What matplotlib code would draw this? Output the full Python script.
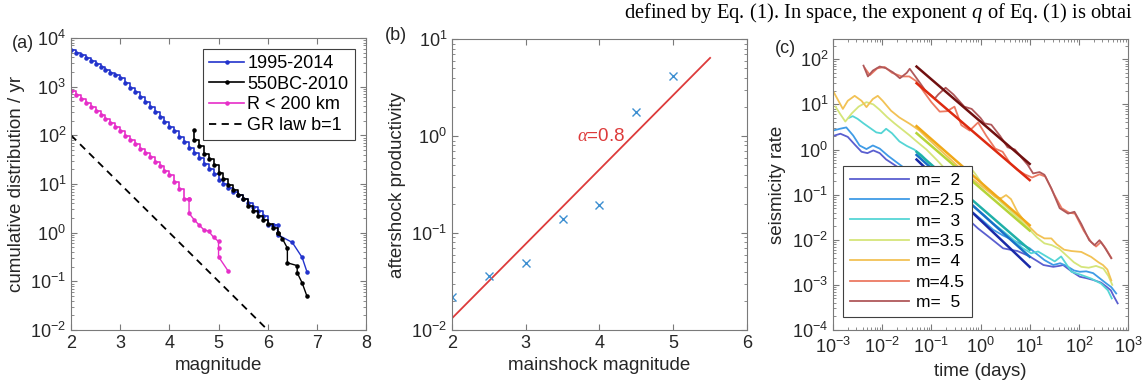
import numpy as np
import matplotlib.pyplot as plt

plt.rcParams['font.family'] = ['Liberation Sans', 'DejaVu Sans']
plt.rcParams['mathtext.fontset'] = 'custom'
plt.rcParams['mathtext.rm'] = 'Liberation Sans'
plt.rcParams['mathtext.it'] = 'Liberation Serif:italic'

# ---------- panel (a): cumulative distributions ----------
blue_m = [2.0, 2.1, 2.2, 2.3, 2.4, 2.5, 2.6, 2.7, 2.8, 2.9,
          3.0, 3.1, 3.2, 3.3, 3.4, 3.5, 3.6, 3.7, 3.8, 3.9,
          4.0, 4.1, 4.2, 4.3, 4.4, 4.5, 4.6, 4.7, 4.8, 4.9,
          5.0, 5.1, 5.2, 5.3, 5.4, 5.5, 5.6, 5.7, 5.8, 5.9, 6.0, 6.1]
blue_n = [5750, 5000, 4370, 3800, 3310, 2880, 2510, 2190, 1900, 1700,
          1510, 1200, 955, 760, 600, 480, 380, 300, 240, 190,
          151, 120, 93, 72, 56, 44, 34, 26, 20, 16,
          12.3, 10, 8.3, 6.9, 5.8, 4.8, 4.0, 3.3, 2.8, 2.2, 1.45, 1.45]
blue_tail_m = [6.1, 6.2, 6.2, 6.5, 6.7, 6.8]
blue_tail_n = [1.45, 1.45, 0.91, 0.63, 0.31, 0.155]

black_m = [4.5, 4.5, 4.6, 4.7, 4.8, 4.9, 5.0, 5.1, 5.2, 5.3, 5.4,
           5.5, 5.6, 5.7, 5.8, 5.9, 6.0, 6.1, 6.2]
black_n = [126, 80, 60, 42, 32, 24, 17, 12.6, 9.5, 7.6, 6.0,
           4.8, 3.6, 2.8, 2.2, 1.8, 1.5, 1.25, 1.0]
black_tail_m = [6.2, 6.3, 6.4, 6.4, 6.6, 6.6, 6.7, 6.8]
black_tail_n = [1.0, 0.75, 0.48, 0.24, 0.21, 0.15, 0.093, 0.049]

mag_m = [2.0, 2.1, 2.2, 2.3, 2.4, 2.5, 2.6, 2.7, 2.8, 2.9,
         3.0, 3.1, 3.2, 3.3, 3.4, 3.5, 3.6, 3.7, 3.8, 3.9,
         4.0, 4.1, 4.2, 4.3, 4.4]
mag_n = [794, 661, 550, 457, 380, 316, 263, 214, 178, 145,
         120, 98, 79, 65, 52, 43, 35, 28, 23, 18.6,
         15.5, 11.2, 8.0, 4.8, 4.8]
mag_tail_m = [4.4, 4.4, 4.5, 4.6, 4.7, 4.8, 4.9, 5.0, 5.0, 5.0, 5.2]
mag_tail_n = [4.8, 2.5, 1.86, 1.45, 1.15, 1.07, 0.8, 0.66, 0.49, 0.32, 0.16]

gr_m = [2, 6]
gr_n = [100, 0.01]

# ---------- panel (b): productivity ----------
prod_m = [2.0, 2.5, 3.0, 3.5, 4.0, 4.5, 5.0]
prod_k = [0.022, 0.036, 0.049, 0.138, 0.195, 1.77, 4.16]
fit_b_m = [2.0, 5.5]
fit_b_k = [0.0132, 6.4]

# ---------- panel (c): seismicity rate (log10 t, log10 rate) ----------
c_labels = ['m=  2', 'm=2.5', 'm=  3', 'm=3.5', 'm=  4', 'm=4.5', 'm=  5']
c_curve_colors = ['#5a5fd0', '#3f9be6', '#55d5d5', '#d5e57a', '#f2c255', '#ec7a62', '#b0585a']
c_fit_colors = ['#1a2aa8', '#1870c8', '#1fb0a8', '#b5d438', '#f0a818', '#dd2a10', '#701010']

logt_2 = [-3.0, -2.85, -2.7, -2.55, -2.42, -2.3, -2.18, -2.05, -1.92, -1.78, -1.6, -1.4, -1.2, -1.0,
          -0.8, -0.6, -0.42, -0.25, -0.05, 0.15, 0.3, 0.46, 0.6, 0.75, 0.9, 1.0, 1.15, 1.28, 1.48,
          1.6, 1.68, 1.85, 2.02, 2.15, 2.29, 2.45, 2.56, 2.65, 2.70, 2.79]
logr_2 = [0.30, 0.35, 0.28, 0.10, -0.05, -0.08, -0.02, -0.08, -0.22, -0.32, -0.45, -0.60, -0.80, -0.98,
          -1.12, -1.25, -1.41, -1.55, -1.75, -1.92, -2.05, -2.19, -2.22, -2.25, -2.32, -2.37, -2.47, -2.56, -2.60,
          -2.58, -2.56, -2.70, -2.82, -2.85, -2.89, -2.95, -3.04, -3.12, -3.23, -3.41]

logt_25 = [-3.0, -2.86, -2.73, -2.59, -2.46, -2.32, -2.19, -2.05, -1.88, -1.71, -1.5, -1.3, -1.1, -0.9,
           -0.7, -0.5, -0.3, -0.14, 0.05, 0.26, 0.45, 0.6, 0.8, 1.0, 1.15, 1.3, 1.48, 1.62, 1.75,
           1.9, 2.02, 2.15, 2.29, 2.42, 2.56, 2.66, 2.76]
logr_25 = [0.42, 0.46, 0.49, 0.31, 0.09, 0.01, 0.09, 0.02, -0.14, -0.28, -0.45, -0.58, -0.75, -0.90,
           -1.02, -1.18, -1.32, -1.41, -1.58, -1.78, -1.90, -1.98, -2.08, -2.19, -2.32, -2.45, -2.56, -2.52, -2.58,
           -2.68, -2.71, -2.70, -2.74, -2.85, -2.97, -3.05, -3.19]

logt_3 = [-2.68, -2.6, -2.5, -2.38, -2.25, -2.12, -2.02, -1.92, -1.80, -1.65, -1.5, -1.35, -1.2, -1.0,
          -0.85, -0.69, -0.5, -0.3, -0.1, 0.1, 0.26, 0.45, 0.65, 0.85, 1.03, 1.17, 1.34, 1.51, 1.64,
          1.85, 2.05, 2.25, 2.45, 2.59, 2.67]
logr_3 = [0.70, 0.74, 0.68, 0.58, 0.48, 0.38, 0.36, 0.46, 0.36, 0.18, 0.08, 0.0, -0.12, -0.35,
          -0.55, -0.82, -0.90, -1.10, -1.30, -1.48, -1.64, -1.80, -1.98, -2.18, -2.30, -2.26, -2.37, -2.48, -2.37,
          -2.71, -2.78, -2.86, -2.97, -3.12, -3.30]

logt_35 = [-2.95, -2.85, -2.75, -2.62, -2.48, -2.32, -2.18, -2.05, -1.9, -1.75, -1.6, -1.45, -1.3, -1.1,
           -0.9, -0.7, -0.5, -0.35, -0.22, -0.1, 0.05, 0.2, 0.4, 0.6, 0.8, 1.0, 1.15, 1.3, 1.45,
           1.6, 1.75, 1.9, 2.05, 2.2, 2.35, 2.5, 2.6, 2.68]
logr_35 = [0.95, 0.78, 0.62, 0.80, 0.95, 1.05, 1.00, 0.88, 0.72, 0.58, 0.45, 0.32, 0.18, 0.00,
           -0.22, -0.45, -0.60, -0.55, -0.38, -0.55, -0.78, -0.95, -1.15, -1.35, -1.55, -1.78, -1.95, -2.08, -2.12,
           -2.20, -2.35, -2.50, -2.60, -2.62, -2.58, -2.64, -2.80, -3.00]

logt_4 = [-3.0, -2.9, -2.80, -2.70, -2.56, -2.42, -2.32, -2.19, -2.09, -1.99, -1.82, -1.65, -1.44, -1.24,
          -1.05, -0.85, -0.65, -0.45, -0.25, -0.05, 0.15, 0.3, 0.42, 0.52, 0.62, 0.75, 0.9, 1.0,
          1.15, 1.3, 1.44, 1.55, 1.7, 1.85, 2.05, 2.25, 2.4, 2.49, 2.58, 2.66]
logr_4 = [1.30, 1.10, 0.90, 1.08, 1.19, 1.08, 0.94, 1.12, 1.19, 1.08, 0.86, 0.71, 0.57, 0.42,
          0.22, 0.02, -0.18, -0.38, -0.58, -0.75, -0.92, -1.05, -1.08, -1.01, -1.10, -1.38, -1.60, -1.72,
          -1.88, -1.97, -1.97, -2.10, -2.22, -2.25, -2.27, -2.38, -2.50, -2.56, -2.66, -2.90]

logt_45 = [-2.35, -2.25, -2.1, -1.95, -1.80, -1.60, -1.45, -1.30, -1.16, -1.00, -0.83, -0.68, -0.53,
           -0.39, -0.22, -0.05, 0.12, 0.30, 0.45, 0.60, 0.75, 0.90, 1.05, 1.20, 1.32, 1.50, 1.65,
           1.80, 1.92, 2.10, 2.25, 2.35, 2.45, 2.55, 2.66]
logr_45 = [1.80, 1.65, 1.80, 1.83, 1.70, 1.62, 1.62, 1.51, 1.29, 1.05, 0.84, 0.85, 0.95,
           0.54, 0.42, 0.60, 0.30, 0.02, -0.05, -0.30, -0.45, -0.55, -0.62, -0.55, -0.60, -1.00, -1.30,
           -1.40, -1.42, -1.80, -2.05, -2.15, -2.05, -2.20, -2.40]

logt_5 = [-2.38, -2.29, -2.19, -2.05, -1.92, -1.78, -1.64, -1.50, -1.44, -1.30, -1.13, -0.93, -0.86,
          -0.71, -0.55, -0.33, -0.18, 0.0, 0.08, 0.22, 0.40, 0.55, 0.70, 0.85, 0.96, 1.07, 1.20,
          1.30, 1.44, 1.61, 1.78, 1.91, 2.05, 2.21, 2.32, 2.42, 2.52, 2.66]
logr_5 = [1.86, 1.62, 1.75, 1.84, 1.80, 1.71, 1.58, 1.70, 1.79, 1.58, 1.32, 1.13, 1.22,
          1.37, 1.22, 0.95, 0.90, 0.70, 0.58, 0.55, 0.30, 0.05, 0.0, -0.20, -0.34, -0.53, -0.50,
          -0.56, -0.86, -1.30, -1.42, -1.38, -1.65, -2.01, -2.12, -2.01, -2.16, -2.41]

c_logt = [logt_2, logt_25, logt_3, logt_35, logt_4, logt_45, logt_5]
c_logr = [logr_2, logr_25, logr_3, logr_35, logr_4, logr_45, logr_5]

# Omori fits, from 0.05 to 10 days
fit_c_t = [0.05, 10]
fit_c_r = [[0.60, 0.0025], [0.76, 0.0042], [0.89, 0.006], [2.3, 0.016],
           [3.3, 0.021], [29.5, 0.21], [69, 0.48]]

# ---------- figure ----------
fig = plt.figure(figsize=(11.46, 3.92), dpi=100)
FS = 13.5

def style(ax):
    ax.tick_params(which='both', direction='in', top=True, right=True,
                   labelcolor='#262626', color='#7a7a7a', labelsize=13)
    ax.tick_params(which='major', length=4)
    ax.tick_params(which='minor', length=2)
    for s in ax.spines.values():
        s.set_color('#7a7a7a')
        s.set_linewidth(0.8)

# (a)
ax1 = fig.add_axes([0.0620, 0.1582, 0.2574, 0.745])
ax1.set_yscale('log')
ms = 4.5
ax1.plot(blue_m, blue_n, color='#2233cc', marker='.', ms=ms, lw=1.2, drawstyle='steps-post',
         label='1995-2014')
ax1.plot(blue_tail_m, blue_tail_n, color='#2233cc', marker='.', ms=ms, lw=1)
ax1.plot(black_m, black_n, color='black', marker='.', ms=ms, lw=1.2, drawstyle='steps-post',
         label='550BC-2010')
ax1.plot(black_tail_m, black_tail_n, color='black', marker='.', ms=ms, lw=1)
ax1.plot(mag_m, mag_n, color='#e62ec8', marker='.', ms=ms, lw=1.2, drawstyle='steps-post',
         label='R < 200 km')
ax1.plot(mag_tail_m, mag_tail_n, color='#e62ec8', marker='.', ms=ms, lw=1)
ax1.plot(gr_m, gr_n, color='black', ls=(0, (4, 3)), lw=1.3, label='GR law b=1')
ax1.set_xlim(2, 8)
ax1.set_ylim(1e-2, 1e4)
ax1.set_xticks([2, 3, 4, 5, 6, 7, 8])
ax1.set_yticks([1e-2, 1e-1, 1e0, 1e1, 1e2, 1e3, 1e4])
ax1.set_xlabel('magnitude', fontsize=FS, color='#262626')
ax1.set_ylabel('cumulative distribution / yr', fontsize=FS, color='#262626')
style(ax1)
leg = ax1.legend(loc='upper right', bbox_to_anchor=(0.962, 0.963), fontsize=13,
                 handlelength=1.9, fancybox=False, edgecolor='#404040', framealpha=1,
                 borderaxespad=0, labelspacing=0.2, handletextpad=0.2, borderpad=0.35)
leg.get_frame().set_linewidth(0.8)

# (b)
ax2 = fig.add_axes([0.3944, 0.1582, 0.2574, 0.742])
ax2.set_yscale('log')
ax2.plot(fit_b_m, fit_b_k, color='#dd3b3b', lw=1.3)
ax2.plot(prod_m, prod_k, ls='none', marker='x', color='#3d8fd1', ms=6, mew=1.0)
ax2.text(3.69, 1.0, r'$\alpha$=0.8', color='#dd3b3b', fontsize=13.5, va='center')
ax2.set_xlim(2, 6)
ax2.set_ylim(1e-2, 1e1)
ax2.set_xticks([2, 3, 4, 5, 6])
ax2.set_xlabel('mainshock magnitude', fontsize=FS, color='#262626')
ax2.set_ylabel('aftershock productivity', fontsize=FS, color='#262626')
style(ax2)

# (c)
ax3 = fig.add_axes([0.7269, 0.1582, 0.2574, 0.742])
ax3.set_xscale('log')
ax3.set_yscale('log')
for lt, lr, col, lab in zip(c_logt, c_logr, c_curve_colors, c_labels):
    ax3.plot(np.power(10.0, lt), np.power(10.0, lr), color=col, lw=1.3, label=lab)
for fr, col in zip(fit_c_r, c_fit_colors):
    ax3.plot(fit_c_t, fr, color=col, lw=1.8)
ax3.set_xlim(1e-3, 1e3)
ax3.set_ylim(1e-4, 280)
ax3.set_xticks([1e-3, 1e-2, 1e-1, 1e0, 1e1, 1e2, 1e3])
ax3.set_yticks([1e-4, 1e-3, 1e-2, 1e-1, 1e0, 1e1, 1e2])
ax3.set_xlabel('time (days)', fontsize=FS, color='#262626')
ax3.set_ylabel('seismicity rate', fontsize=FS, color='#262626')
style(ax3)
ax3.tick_params(axis='x', which='major', pad=5)
leg3 = ax3.legend(loc='lower left', bbox_to_anchor=(0.034, 0.045), fontsize=12.5,
                  handlelength=3.4, fancybox=False, edgecolor='#404040', framealpha=1,
                  borderaxespad=0, labelspacing=0.3, handletextpad=0.4, borderpad=0.4)
leg3.get_frame().set_linewidth(0.8)
leg3.set_zorder(5)

# panel tags and the visible piece of the page's text line
fig.text(0.010, 0.89, '(a)', fontsize=13, color='#262626', va='center')
fig.text(0.336, 0.91, '(b)', fontsize=13, color='#262626', va='center')
fig.text(0.676, 0.877, '(c)', fontsize=13, color='#262626', va='center')
fig.text(0.5445, 0.966, 'defined by Eq. (1). In space, the exponent $q$ of Eq. (1) is obtai',
         fontsize=14.8, family='Liberation Serif', color='black', va='center')

fig.savefig('out.png', dpi=100)
